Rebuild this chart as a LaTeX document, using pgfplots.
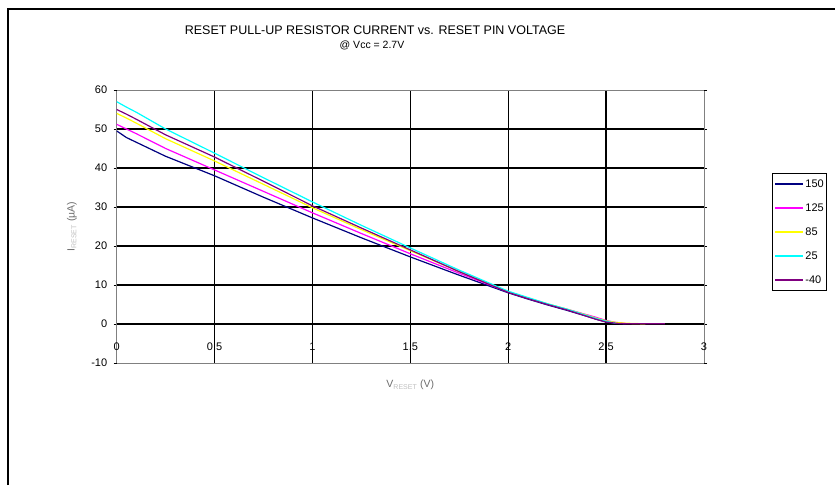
\documentclass[border=0pt]{standalone}
\usepackage{pgfplots}
\pgfplotsset{compat=1.18}
\usepackage{fontspec}
\setmainfont{Liberation Sans}
\definecolor{s150}{RGB}{0,0,128}
\definecolor{s125}{RGB}{255,0,255}
\definecolor{s85}{RGB}{255,255,0}
\definecolor{s25}{RGB}{0,255,255}
\definecolor{s40}{RGB}{128,0,128}
\begin{document}
\begin{tikzpicture}[x=1pt,y=1pt]
\useasboundingbox (0,0) rectangle (835,485);
\draw[line width=1.5pt] (8,0) -- (8,476) -- (835,476);
\node[font=\fontsize{12.5}{14}\selectfont] at (375,455) {RESET PULL-UP RESISTOR CURRENT vs. RESET PIN VOLTAGE};
\node[font=\fontsize{10.5}{12}\selectfont] at (372,440) {@ Vcc = 2.7V};
\begin{axis}[
  at={(116.7pt,122pt)}, anchor=south west,
  width=587.3pt, height=273pt, scale only axis,
  xmin=0, xmax=3, ymin=-10, ymax=60,
  xtick={0,0.5,1,1.5,2,2.5}, extra x ticks={3},
  ytick={0,10,20,30,40,50}, extra y ticks={-10,60},
  extra tick style={grid=none},
  xticklabels={0,0.5,1,1.5,2,2.5}, extra x tick labels={3},
  grid=major,
  major grid style={black, line width=1.3pt},
  axis line style={gray, line width=0.8pt},
  tick align=outside, major tick length=3pt,
  tick style={black, line width=0.8pt},
  xtick style={draw=none},
  ticklabel style={font=\fontsize{11}{12}\selectfont},
  xticklabel style={yshift=27pt},
  yticklabel style={xshift=-3pt},
  /pgf/number format/assume math mode=true,
  xlabel={V\textsubscript{\color{gray!50}\scriptsize RESET} (V)},
  ylabel={I\textsubscript{\color{gray!50}\scriptsize RESET} (µA)},
  label style={font=\fontsize{10.5}{12}\selectfont, text=gray!85!black},
  xlabel style={at={(axis description cs:0.5,-0.0806)}, anchor=center},
  ylabel style={at={(axis description cs:-0.0761,0.5)}, anchor=center},
  legend style={at={(axis description cs:1.1158,0.696)}, anchor=north west,
    draw, line width=0.8pt, font=\fontsize{11}{12}\selectfont,
    inner xsep=2pt, inner ysep=5pt, row sep=13pt,
    nodes={inner sep=1pt, text height=8pt, text depth=1pt}},
  legend cell align=left,
  legend image code/.code={\draw[#1, line width=2pt] (0pt,0pt) -- (28pt,0pt);},
  every axis plot/.append style={line width=1.2pt},
]
\addplot[s150] coordinates {(0,49.5)(0.05,47.8)(0.1,46.6)(0.25,43)(0.5,38)(0.75,32.5)(1,27.2)(1.25,22.1)(1.5,17.2)(1.75,12.5)(2,8.0)(2.1,6.4)(2.2,4.9)(2.3,3.5)(2.4,2.0)(2.45,1.2)(2.5,0.5)(2.55,0.15)(2.6,0.05)};
\addlegendentry{150}
\addplot[s125] coordinates {(0,51.2)(0.05,50)(0.1,48.8)(0.25,45)(0.5,39.5)(0.75,34)(1,28.5)(1.25,23.2)(1.5,18)(1.75,13)(2,8.2)(2.1,6.6)(2.2,5.1)(2.3,3.8)(2.4,2.4)(2.45,1.7)(2.5,0.9)(2.55,0.4)(2.6,0.15)};
\addlegendentry{125}
\addplot[s85] coordinates {(0,54)(0.05,52.8)(0.1,51.5)(0.25,47.5)(0.5,41.8)(0.75,35.8)(1,29.8)(1.25,24.2)(1.5,18.8)(1.75,13.4)(2,8.3)(2.1,6.7)(2.2,5.2)(2.3,3.8)(2.4,2.3)(2.45,1.5)(2.5,0.8)(2.55,0.4)(2.6,0.2)(2.7,0.05)};
\addlegendentry{85}
\addplot[s25] coordinates {(0,57)(0.05,55.6)(0.1,54.3)(0.25,50)(0.5,43.8)(0.75,37.5)(1,31.3)(1.25,25.3)(1.5,19.5)(1.75,13.8)(2,8.4)(2.1,6.8)(2.2,5.2)(2.3,3.8)(2.4,2.2)(2.45,1.4)(2.5,0.7)(2.55,0.2)};
\addlegendentry{25}
\addplot[s40] coordinates {(0,55)(0.05,53.8)(0.1,52.5)(0.25,48.5)(0.5,42.8)(0.75,36.6)(1,30.3)(1.25,24.6)(1.5,19)(1.75,13.4)(2,8.1)(2.1,6.5)(2.2,5.0)(2.3,3.6)(2.4,2.0)(2.45,1.2)(2.5,0.5)(2.55,0.2)(2.6,0.05)(2.8,0.05)};
\addlegendentry{-40}
\end{axis}
\end{tikzpicture}
\end{document}
